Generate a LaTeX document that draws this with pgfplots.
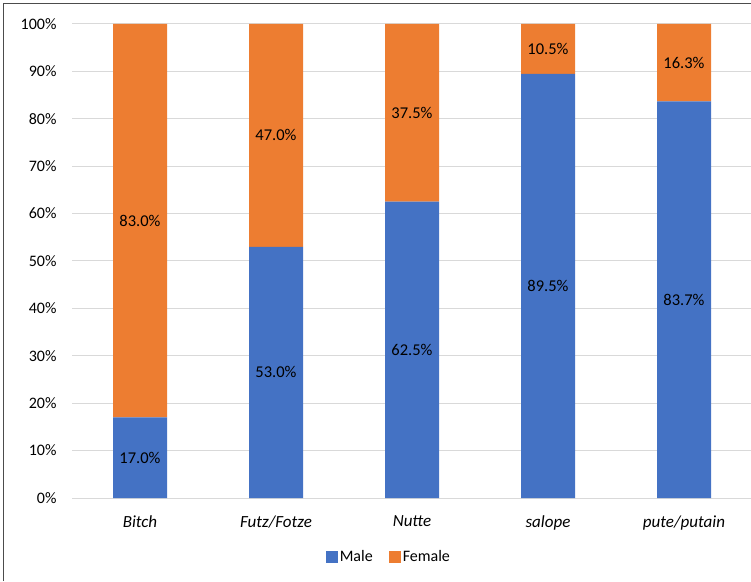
\documentclass[border=0pt]{standalone}
\usepackage{fontspec}
\setmainfont{Carlito}
\usepackage{pgfplots}
\usepackage{pgfplotstable}
\pgfplotsset{compat=1.18}
\definecolor{mblue}{HTML}{4472C4}
\definecolor{forange}{HTML}{ED7D31}
\pgfplotstableread{
x male female
0 17.0 83.0
1 53.0 47.0
2 62.5 37.5
3 89.5 10.5
4 83.7 16.3
}\datatable
\pgfplotstableread{
x ymid val
0 8.5 17.0
1 26.5 53.0
2 31.25 62.5
3 44.75 89.5
4 41.85 83.7
0 58.5 83.0
1 76.5 47.0
2 81.25 37.5
3 94.75 10.5
4 91.85 16.3
}\labeltable
\begin{document}
\begin{tikzpicture}[x=1pt,y=1pt]
\useasboundingbox (0,0) rectangle (751,581);
\draw[black!70, line width=1pt] (3,0) -- (3,577) -- (752,577);
\pgfplotsset{common/.style={
  at={(72pt,83pt)}, anchor=south west,
  scale only axis, width=680pt, height=474pt,
  xmin=-0.5, xmax=4.5, ymin=0, ymax=100}}
\begin{axis}[
  common,
  ybar stacked, bar width=54pt,
  xtick={0,1,2,3,4}, xticklabels={Bitch,Futz/Fotze,Nutte,salope,pute/putain},
  xticklabel style={font=\fontsize{17}{20}\selectfont\itshape, yshift=-14pt},
  ytick={0,10,...,100},
  yticklabel={\pgfmathprintnumber{\tick}\%},
  /pgf/number format/assume math mode=true,
  yticklabel style={font=\fontsize{16}{18}\selectfont, xshift=-12pt},
  major tick length=0pt,
  tick style={draw=none},
  axis line style={draw=none},
  ymajorgrids, grid style={draw=black!15, line width=1pt},
  legend style={at={(0.466,-0.1245)}, anchor=center, draw=none, legend columns=2,
    font=\fontsize{16}{19}\selectfont,
    /tikz/every even column/.append style={column sep=14pt}},
  legend image code/.code={\fill[#1] (0pt,-6pt) rectangle (12pt,6pt);},
]
\addplot[fill=mblue, draw=none] table[x=x, y=male] {\datatable};
\addplot[fill=forange, draw=none] table[x=x, y=female] {\datatable};
\legend{Male, Female}
\end{axis}
\begin{axis}[
  common, hide axis,
  /pgf/number format/assume math mode=true,
  nodes near coords={\pgfmathprintnumber[fixed,fixed zerofill,precision=1]{\pgfplotspointmeta}\%},
  every node near coord/.append style={anchor=center, font=\fontsize{16.5}{19}\selectfont, text=black},
]
\addplot[draw=none, mark=none, only marks, point meta=explicit] table[x=x, y=ymid, meta=val] {\labeltable};
\end{axis}
\end{tikzpicture}
\end{document}
